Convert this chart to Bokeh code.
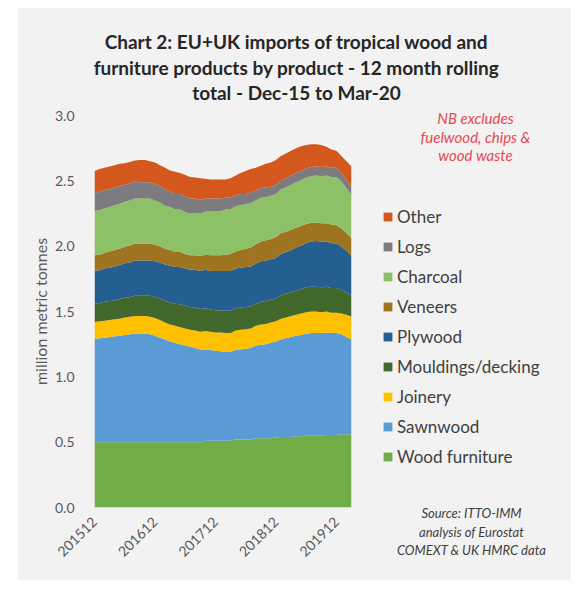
from math import pi
from bokeh.plotting import figure
from bokeh.models import (ColumnDataSource, Legend, LegendItem, FixedTicker,
                          Spacer, Range1d)
from bokeh.layouts import row, column
from bokeh.core.properties import value
from bokeh.embed import file_html
from bokeh.resources import INLINE

# ---- data (million metric tonnes, 12-month rolling totals, Dec-15 .. Mar-20) ----
months = []
for yr in range(2015, 2021):
    for mo in range(1, 13):
        if (2015, 12) <= (yr, mo) <= (2020, 3):
            months.append(f"{yr}{mo:02d}")

tick_labels = ["201512", "201612", "201712", "201812", "201912"]

wood_furniture = [0.50, 0.50, 0.50, 0.50, 0.50, 0.50, 0.50, 0.50, 0.50, 0.50,
                  0.50, 0.50, 0.50, 0.50, 0.50, 0.50, 0.50, 0.50, 0.50, 0.50,
                  0.50, 0.50, 0.51, 0.51, 0.51, 0.51, 0.51, 0.51, 0.52, 0.52,
                  0.52, 0.52, 0.53, 0.53, 0.53, 0.53, 0.535, 0.54, 0.54, 0.54,
                  0.545, 0.545, 0.55, 0.55, 0.55, 0.55, 0.555, 0.555, 0.555, 0.56,
                  0.56, 0.56]
sawnwood = [0.79, 0.795, 0.80, 0.805, 0.81, 0.815, 0.82, 0.825, 0.83, 0.83,
            0.83, 0.825, 0.815, 0.80, 0.785, 0.77, 0.76, 0.75, 0.74, 0.73,
            0.72, 0.71, 0.70, 0.695, 0.69, 0.685, 0.68, 0.68, 0.685, 0.69,
            0.695, 0.70, 0.71, 0.715, 0.72, 0.73, 0.735, 0.745, 0.755, 0.765,
            0.77, 0.775, 0.78, 0.785, 0.785, 0.785, 0.785, 0.78, 0.78, 0.765,
            0.745, 0.725]
joinery = [0.13, 0.13, 0.13, 0.13, 0.13, 0.13, 0.135, 0.135, 0.135, 0.135,
           0.135, 0.135, 0.135, 0.135, 0.13, 0.13, 0.13, 0.13, 0.13, 0.13,
           0.135, 0.135, 0.14, 0.14, 0.14, 0.145, 0.145, 0.145, 0.15, 0.15,
           0.15, 0.15, 0.15, 0.155, 0.155, 0.155, 0.155, 0.16, 0.16, 0.16,
           0.16, 0.165, 0.165, 0.165, 0.165, 0.16, 0.16, 0.155, 0.155, 0.16,
           0.17, 0.175]
mouldings = [0.14, 0.14, 0.145, 0.145, 0.145, 0.15, 0.15, 0.15, 0.155, 0.155,
             0.155, 0.16, 0.16, 0.165, 0.165, 0.17, 0.17, 0.175, 0.175, 0.175,
             0.175, 0.175, 0.175, 0.17, 0.17, 0.17, 0.17, 0.17, 0.17, 0.17,
             0.17, 0.17, 0.17, 0.175, 0.175, 0.175, 0.175, 0.18, 0.18, 0.18,
             0.185, 0.185, 0.19, 0.19, 0.19, 0.19, 0.19, 0.19, 0.19, 0.18,
             0.17, 0.16]
plywood = [0.25, 0.25, 0.255, 0.255, 0.26, 0.26, 0.265, 0.265, 0.27, 0.27,
           0.27, 0.27, 0.275, 0.275, 0.28, 0.28, 0.28, 0.285, 0.285, 0.285,
           0.29, 0.29, 0.295, 0.295, 0.30, 0.30, 0.305, 0.305, 0.305, 0.305,
           0.305, 0.305, 0.305, 0.31, 0.31, 0.31, 0.31, 0.315, 0.32, 0.325,
           0.33, 0.335, 0.34, 0.345, 0.35, 0.35, 0.345, 0.345, 0.34, 0.33,
           0.32, 0.305]
veneers = [0.12, 0.12, 0.12, 0.125, 0.125, 0.125, 0.125, 0.13, 0.13, 0.13,
           0.13, 0.13, 0.125, 0.125, 0.12, 0.12, 0.115, 0.115, 0.11, 0.11,
           0.11, 0.115, 0.115, 0.12, 0.12, 0.12, 0.125, 0.13, 0.13, 0.135,
           0.14, 0.145, 0.15, 0.15, 0.155, 0.155, 0.16, 0.16, 0.155, 0.155,
           0.15, 0.15, 0.145, 0.145, 0.14, 0.14, 0.14, 0.14, 0.14, 0.14,
           0.135, 0.135]
charcoal = [0.34, 0.34, 0.34, 0.34, 0.345, 0.345, 0.345, 0.345, 0.345, 0.345,
            0.345, 0.345, 0.34, 0.335, 0.33, 0.33, 0.325, 0.325, 0.32, 0.32,
            0.325, 0.325, 0.33, 0.335, 0.34, 0.34, 0.345, 0.345, 0.345, 0.345,
            0.34, 0.34, 0.335, 0.335, 0.33, 0.33, 0.33, 0.335, 0.34, 0.345,
            0.35, 0.35, 0.355, 0.355, 0.36, 0.36, 0.365, 0.365, 0.37, 0.36,
            0.345, 0.33]
logs = [0.14, 0.14, 0.14, 0.135, 0.135, 0.135, 0.13, 0.13, 0.13, 0.125,
        0.125, 0.125, 0.125, 0.125, 0.125, 0.12, 0.12, 0.12, 0.12, 0.115,
        0.11, 0.105, 0.10, 0.10, 0.095, 0.095, 0.09, 0.09, 0.085, 0.085,
        0.08, 0.08, 0.075, 0.075, 0.075, 0.07, 0.07, 0.07, 0.07, 0.07,
        0.07, 0.07, 0.07, 0.07, 0.07, 0.07, 0.07, 0.07, 0.07, 0.065,
        0.065, 0.06]
other = [0.165, 0.175, 0.17, 0.175, 0.17, 0.17, 0.165, 0.165, 0.16, 0.17,
         0.17, 0.16, 0.165, 0.16, 0.165, 0.16, 0.17, 0.16, 0.165, 0.165,
         0.16, 0.165, 0.15, 0.145, 0.145, 0.145, 0.14, 0.145, 0.15, 0.16,
         0.175, 0.18, 0.175, 0.17, 0.18, 0.185, 0.19, 0.185, 0.19, 0.19,
         0.19, 0.19, 0.18, 0.175, 0.17, 0.17, 0.15, 0.14, 0.13, 0.13,
         0.14, 0.16]

series_names = ["Wood furniture", "Sawnwood", "Joinery", "Mouldings/decking",
                "Plywood", "Veneers", "Charcoal", "Logs", "Other"]
series_values = [wood_furniture, sawnwood, joinery, mouldings, plywood,
                 veneers, charcoal, logs, other]
series_colors = ["#70AD47", "#5B9BD5", "#FFC000", "#43682B", "#255E91",
                 "#9E7420", "#8CC168", "#7B7B80", "#D4571E"]

title_lines = ["Chart 2: EU+UK imports of tropical wood and",
               "furniture products by product - 12 month rolling",
               "total - Dec-15 to Mar-20"]
nb_lines = ["NB excludes", "fuelwood, chips &", "wood waste"]
source_lines = ["Source: ITTO-IMM", "analysis of Eurostat", "COMEXT & UK HMRC data"]

FONT = "Lato"
BG = "#f2f2f2"


def blank(fig):
    fig.axis.visible = False
    fig.grid.visible = False
    fig.outline_line_color = None
    fig.background_fill_color = BG
    fig.border_fill_color = BG
    return fig


def no_align(fig):
    try:
        fig.frame_align = False
    except Exception:
        pass
    return fig


# ---- title strip (page px coordinates: x 18..571, y 8..108) ----
pt = blank(figure(width=553, height=100, x_range=Range1d(18, 571),
                  y_range=Range1d(108, 8), output_backend="svg",
                  toolbar_location=None, min_border=0))
no_align(pt)
pt.text(x=[296, 296, 296], y=[41, 67, 92], text=title_lines,
        text_align="center", text_baseline="middle",
        text_font=value(FONT), text_font_style="bold",
        text_font_size="19px", text_color="#262626")

# ---- main chart ----
data = {"x": list(range(len(months))), "month": months}
for n, v in zip(series_names, series_values):
    data[n] = v
src = ColumnDataSource(data)

p = figure(width=342, height=472, x_range=Range1d(0, len(months) - 1),
           y_range=Range1d(0, 3.0), output_backend="svg", toolbar_location=None,
           min_border_left=76, min_border_right=9, min_border_top=7,
           min_border_bottom=73)
no_align(p)
p.background_fill_color = BG
p.border_fill_color = BG
p.outline_line_color = None

p.varea_stack(stackers=series_names, x="x", color=series_colors, source=src)

p.yaxis.ticker = FixedTicker(ticks=[0, 0.5, 1.0, 1.5, 2.0, 2.5, 3.0])
p.yaxis.major_label_overrides = {0: "0.0", 0.5: "0.5", 1: "1.0", 1.5: "1.5",
                                 2: "2.0", 2.5: "2.5", 3: "3.0"}
p.yaxis.axis_line_color = None
p.yaxis.major_tick_line_color = None
p.yaxis.minor_tick_line_color = None
p.yaxis.major_label_standoff = 14
p.yaxis.major_label_text_font = FONT
p.yaxis.major_label_text_font_size = "14px"
p.yaxis.major_label_text_color = "#595959"
p.yaxis.axis_label = "million metric tonnes"
p.yaxis.axis_label_text_font = FONT
p.yaxis.axis_label_text_font_size = "16px"
p.yaxis.axis_label_text_font_style = "normal"
p.yaxis.axis_label_text_color = "#595959"
p.yaxis.axis_label_standoff = 2

tick_idx = [months.index(t) for t in tick_labels]
p.xaxis.ticker = FixedTicker(ticks=tick_idx)
p.xaxis.major_label_overrides = {i: t for i, t in zip(tick_idx, tick_labels)}
p.xaxis.major_label_orientation = pi / 4
p.xaxis.axis_line_color = "#d9d9d9"
p.xaxis.major_tick_line_color = None
p.xaxis.minor_tick_line_color = None
p.xaxis.major_label_standoff = 6
p.xaxis.major_label_text_font = FONT
p.xaxis.major_label_text_font_size = "14px"
p.xaxis.major_label_text_color = "#595959"

p.xgrid.grid_line_color = None
p.ygrid.grid_line_color = "#d9d9d9"
p.ygrid.ticker = FixedTicker(ticks=[0.5, 1.0, 1.5, 2.0, 2.5, 3.0])

# ---- right strip: legend and notes (page px coordinates: x 360..571, y 108..580) ----
pr = blank(figure(width=211, height=472, x_range=Range1d(360, 571),
                  y_range=Range1d(580, 108), output_backend="svg",
                  toolbar_location=None, min_border=0))
no_align(pr)
# zero-height placeholder areas (outside the visible range) that only supply legend swatches
swatches = [pr.varea(x=[0, 1], y1=[0, 0], y2=[0, 0], color=c) for c in series_colors]
items = [LegendItem(label=n, renderers=[r])
         for n, r in zip(series_names[::-1], swatches[::-1])]
legend = Legend(items=items, location=(22, 113), orientation="vertical",
                glyph_width=11, glyph_height=11, label_height=20, spacing=9,
                padding=0, margin=0, border_line_color=None,
                background_fill_alpha=0, label_standoff=4,
                label_text_font=FONT, label_text_font_size="17px",
                label_text_color="#404040")
pr.add_layout(legend)

pr.text(x=[475, 475, 475], y=[117, 136, 154], text=nb_lines,
        text_align="center", text_baseline="middle",
        text_font=value(FONT), text_font_style="italic",
        text_font_size="15px", text_color="#E8474F")
pr.text(x=[471, 471, 471], y=[512, 531, 549], text=source_lines,
        text_align="center", text_baseline="middle",
        text_font=value(FONT), text_font_style="italic",
        text_font_size="13px", text_color="#404040")

panel = column(pt, row(p, pr, styles={"background-color": BG}),
               styles={"background-color": BG})
layout = column(Spacer(width=571, height=8),
                row(Spacer(width=18, height=572), panel))
open("out.html", "w").write(file_html(layout, INLINE))
